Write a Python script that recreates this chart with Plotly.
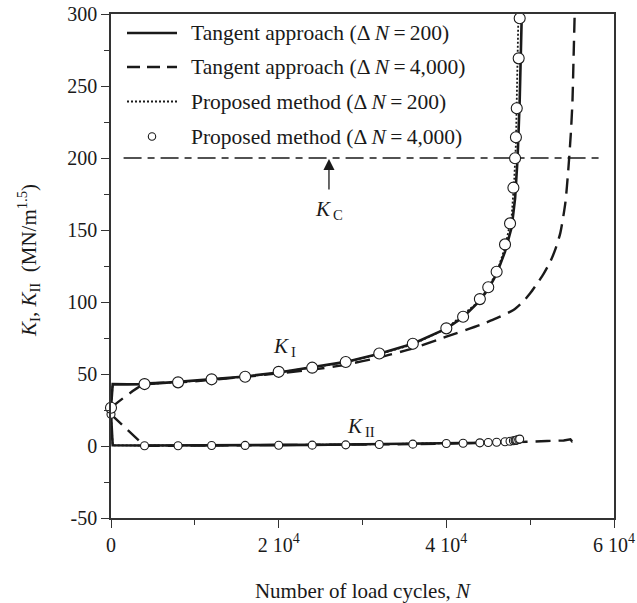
import plotly.graph_objects as go

# ---------------- data ----------------
# Tangent approach, dN = 200 (solid)
N_tan200 = [0, 200, 2000, 4000, 8000, 12000, 16000, 20000, 24000, 28000, 32000, 36000,
            40000, 42000, 44000, 45000, 46000, 47000, 47800, 48200, 48500, 48750, 49000]
KI_tan200 = [26.6, 43, 42.8, 43, 44.5, 46.3, 48.3, 51, 54.5, 58.4, 64, 71,
             81.5, 89.5, 101, 109, 119.5, 135, 152, 172, 200, 240, 300]
N_tan200_II = [0, 200, 4000, 8000, 12000, 16000, 20000, 24000, 28000, 32000, 36000,
               40000, 44000, 46000, 47000, 48000, 48500, 48800]
KII_tan200 = [22, 0.5, 0.3, 0.3, 0.4, 0.5, 0.6, 0.8, 1.0, 1.2, 1.4,
              1.7, 2.3, 2.8, 3.3, 4.0, 4.6, 5.0]

# Tangent approach, dN = 4,000 (dashed)
N_tan4000 = [0, 4000, 8000, 12000, 16000, 20000, 24000, 28000, 32000, 36000, 40000,
             44000, 46000, 48000, 49200, 50000, 50800, 51600, 52400, 53000, 53600, 54200,
             54550, 54850, 55050, 55150, 55300]
KI_tan4000 = [26.6, 43, 44, 46, 48, 50.5, 53, 56.5, 61.5, 67.8, 75.9,
              84, 88.8, 94.4, 100.5, 106, 112.5, 119.5, 128, 136.5, 148, 169,
              192, 217, 240, 263, 298]
N_tan4000_II = [0, 4000, 8000, 12000, 16000, 20000, 24000, 28000, 32000, 36000, 40000,
                44000, 48000, 50000, 52000, 54000, 54800, 55000, 55300]
KII_tan4000 = [22, 0.2, 0.2, 0.3, 0.4, 0.5, 0.6, 0.8, 1.0, 1.3, 1.6,
               2.0, 2.6, 3.0, 3.5, 3.8, 4.6, 3.2, 3.5]

# Proposed method, dN = 200 (dotted)
N_prop200 = [0, 200, 4000, 8000, 12000, 16000, 20000, 24000, 28000, 32000, 36000,
             40000, 44000, 46000, 47000, 47800, 48100, 48300, 48450, 48600]
KI_prop200 = [26.6, 43, 43, 44.3, 46.2, 48.1, 51, 54.4, 58.2, 63.8, 70.5,
              81.5, 101, 120, 138, 160, 185, 210, 250, 300]
N_prop200_II = [0, 200, 4000, 8000, 12000, 16000, 20000, 24000, 28000, 32000, 36000,
                40000, 44000, 46000, 47000, 48000, 48400, 48700]
KII_prop200 = [22, 0.5, 0.3, 0.3, 0.4, 0.5, 0.6, 0.8, 1.0, 1.2, 1.4,
               1.7, 2.3, 2.8, 3.2, 3.8, 4.3, 4.8]

# Proposed method, dN = 4,000 (circles)
N_prop4000 = [0, 4000, 8000, 12000, 16000, 20000, 24000, 28000, 32000, 36000, 40000,
              42000, 44000, 45000, 46000, 47000, 47600, 48000, 48200, 48300, 48400, 48630, 48750]
KI_prop4000 = [26.6, 43, 44.2, 46.3, 48.1, 51.5, 54.4, 58.3, 64.2, 71, 81.7,
               89.8, 102, 110.2, 121, 140, 154.6, 179.4, 199.8, 214.4, 234.5, 269.2, 297]
KII_prop4000 = [22, 0.2, 0.2, 0.3, 0.4, 0.5, 0.6, 0.8, 1.0, 1.3, 1.7,
                1.9, 2.2, 2.4, 2.6, 3.0, 3.3, 3.6, 3.8, 4.0, 4.2, 4.5, 4.8]

# Fracture toughness
KC_value = 200
KC_N_range = [1500, 58500]
KC_arrow_N = 26000

x_tickvals = [0, 20000, 40000, 60000]
x_ticktext = ["0", "2 10<sup>4</sup>", "4 10<sup>4</sup>", "6 10<sup>4</sup>"]
x_minor_vals = [10000, 30000, 50000]
y_tickvals = [-50, 0, 50, 100, 150, 200, 250, 300]
y_ticktext = ["-50", "0", "50", "100", "150", "200", "250", "300"]
y_minor_vals = [-25, 25, 75, 125, 175, 225, 275]

legend_labels = [
    "Tangent approach (\u0394\u2009<i>N</i>\u2009=\u2009200)",
    "Tangent approach (\u0394\u2009<i>N</i>\u2009=\u20094,000)",
    "Proposed method (\u0394\u2009<i>N</i>\u2009=\u2009200)",
    "Proposed method (\u0394\u2009<i>N</i>\u2009=\u20094,000)",
]

# ---------------- figure ----------------
FONT = "Liberation Serif"
INK = "#1a1a1a"
W, H = 637, 603
ML, MR, MT, MB = 111, 23, 14, 85
PW, PH = W - ML - MR, H - MT - MB

fig = go.Figure()

dash_style = dict(color=INK, width=2.4, dash="15px,8px")
solid_style = dict(color=INK, width=2.6)
dot_style = dict(color=INK, width=1.8, dash="2px,2px")

fig.add_trace(go.Scatter(x=N_tan4000, y=KI_tan4000, mode="lines", line=dict(shape="spline", smoothing=0.6, **dash_style), showlegend=False))
fig.add_trace(go.Scatter(x=N_tan4000_II, y=KII_tan4000, mode="lines", line=dash_style, showlegend=False))
fig.add_trace(go.Scatter(x=N_tan200, y=KI_tan200, mode="lines", line=solid_style, showlegend=False, cliponaxis=False))
fig.add_trace(go.Scatter(x=N_tan200_II, y=KII_tan200, mode="lines", line=solid_style, showlegend=False, cliponaxis=False))
fig.add_trace(go.Scatter(x=N_prop200, y=KI_prop200, mode="lines", line=dot_style, showlegend=False))
fig.add_trace(go.Scatter(x=N_prop200_II, y=KII_prop200, mode="lines", line=dot_style, showlegend=False))

# K_C dash-dot line
fig.add_trace(go.Scatter(x=KC_N_range, y=[KC_value, KC_value], mode="lines",
                         line=dict(color=INK, width=1.3, dash="18px,6px,7px,6px"), showlegend=False))

fig.add_trace(go.Scatter(x=N_prop4000, y=KII_prop4000, mode="markers", cliponaxis=False,
                         marker=dict(symbol="circle", size=8, color="white",
                                     line=dict(color=INK, width=1.1)), showlegend=False))
fig.add_trace(go.Scatter(x=N_prop4000, y=KI_prop4000, mode="markers", cliponaxis=False,
                         marker=dict(symbol="circle", size=11, color="white",
                                     line=dict(color=INK, width=1.1)), showlegend=False))

# ---------------- manual legend ----------------
def px_to_paper_x(px):
    return (px - ML) / PW

def px_to_paper_y(py):
    return (H - MB - py) / PH

legend_rows_py = [33, 67, 101.5, 136.5]
sample_x0, sample_x1, text_x = 127, 177, 189
sample_styles = [solid_style, dict(color=INK, width=2.4, dash="13px,7px"), dot_style, None]

for i, (label, rowy) in enumerate(zip(legend_labels, legend_rows_py)):
    yp = px_to_paper_y(rowy)
    st = sample_styles[i]
    if st is not None:
        fig.add_shape(type="line", xref="paper", yref="paper",
                      x0=px_to_paper_x(sample_x0), x1=px_to_paper_x(sample_x1), y0=yp, y1=yp,
                      line=st)
    else:
        fig.add_shape(type="circle", xref="paper", yref="paper",
                      xsizemode="pixel", ysizemode="pixel",
                      xanchor=px_to_paper_x((sample_x0 + sample_x1) / 2), yanchor=yp,
                      x0=-3.7, x1=3.7, y0=-3.7, y1=3.7,
                      line=dict(color=INK, width=1.1), fillcolor="white")
    fig.add_annotation(xref="paper", yref="paper", x=px_to_paper_x(text_x), y=yp,
                       text=label, showarrow=False, xanchor="left", yanchor="middle",
                       font=dict(family=FONT, size=21.5, color=INK))

# ---------------- labels ----------------
fig.add_annotation(x=KC_arrow_N, y=KC_value, ax=KC_arrow_N, ay=177,
                   xref="x", yref="y", axref="x", ayref="y",
                   text="", showarrow=True, arrowhead=2, arrowsize=1.7, arrowwidth=1.3,
                   arrowcolor=INK, standoff=1)
fig.add_annotation(x=KC_arrow_N, y=164, xref="x", yref="y", showarrow=False,
                   text="<i>K</i><sub>\u2009C</sub>", font=dict(family=FONT, size=21, color=INK))
fig.add_annotation(x=20700, y=69, xref="x", yref="y", showarrow=False,
                   text="<i>K</i><sub>\u2009I</sub>", font=dict(family=FONT, size=21, color=INK))
fig.add_annotation(x=29800, y=13.5, xref="x", yref="y", showarrow=False,
                   text="<i>K</i><sub>\u2009II</sub>", font=dict(family=FONT, size=21, color=INK))

# y-axis title placed as a rotated annotation
fig.add_annotation(xref="paper", yref="paper", x=px_to_paper_x(28), y=px_to_paper_y(261),
                   text="<i>K</i><sub>I</sub>, <i>K</i><sub>II</sub>\u00a0\u00a0(MN/m<sup>1.5</sup>)",
                   textangle=-90, showarrow=False, xanchor="center", yanchor="middle",
                   font=dict(family=FONT, size=21, color=INK))

axis_common = dict(showgrid=False, zeroline=False, showline=True, linecolor="#333333",
                   linewidth=1.5, mirror=True, ticks="outside", tickcolor="#333333",
                   tickwidth=1.3, tickfont=dict(family=FONT, size=20, color=INK))

fig.update_xaxes(range=[0, 60000], tickmode="array", tickvals=x_tickvals, ticktext=x_ticktext,
                 ticklen=8,
                 minor=dict(tickmode="array", tickvals=x_minor_vals, ticks="outside", ticklen=5,
                            tickcolor="#333333", tickwidth=1.3),
                 title=dict(text="Number of load cycles, <i>N</i>", font=dict(family=FONT, size=21, color=INK),
                            standoff=29),
                 **axis_common)
fig.update_yaxes(range=[-50, 300], tickmode="array", tickvals=y_tickvals, ticktext=y_ticktext, ticklen=8,
                 minor=dict(tickmode="array", tickvals=y_minor_vals, ticks="outside", ticklen=5,
                            tickcolor="#333333", tickwidth=1.3),
                 **axis_common)

fig.update_layout(width=W, height=H, margin=dict(l=ML, r=MR, t=MT, b=MB, autoexpand=False),
                  paper_bgcolor="white", plot_bgcolor="white", showlegend=False,
                  font=dict(family=FONT, size=20, color=INK))

fig.write_html("out.html")
